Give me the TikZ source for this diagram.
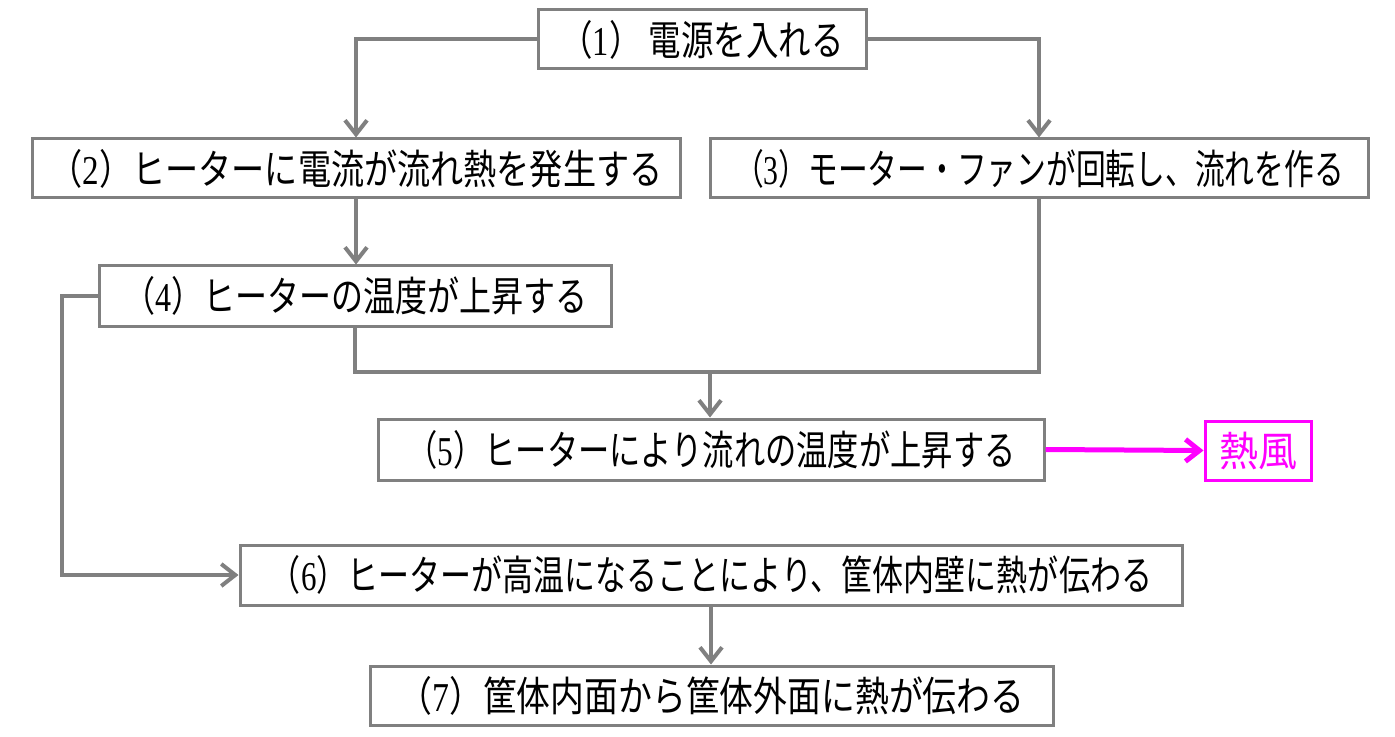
\documentclass[tikz,border=0pt]{standalone}
\usepackage{fontspec}
\setmainfont{Liberation Serif}
\newfontfamily\jp{Noto Sans CJK JP}
\usetikzlibrary{arrows.meta}
\definecolor{lg}{RGB}{128,128,128}
\definecolor{mg}{RGB}{255,0,255}
\newcommand{\fitw}[2]{\resizebox{#1}{\height}{#2}}
\newcommand{\dg}[1]{{\rmfamily #1}}
\begin{document}
\begin{tikzpicture}[x=0.5pt,y=-0.5pt,
  box/.style={draw=lg,line width=1.5pt,fill=white,inner sep=0pt,
    font=\jp\fontsize{20.5pt}{20.5pt}\selectfont},
  conn/.style={draw=lg,line width=2pt},
  tip/.style={-{Straight Barb[length=7pt,width=11pt]}}]
\path[fill=white,use as bounding box] (0,0) rectangle (1395,737);

\node[box,minimum width=164pt,minimum height=29.5pt] (b1) at (702,39.5)
  {\fitw{141.5pt}{（\dg{1}） 電源を入れる}};
\node[box,minimum width=324pt,minimum height=29.5pt] (b2) at (356,168.5)
  {\fitw{306.5pt}{（\dg{2}）ヒーターに電流が流れ熱を発生する}};
\node[box,minimum width=329pt,minimum height=29.5pt] (b3) at (1039,168.5)
  {\fitw{305pt}{（\dg{3}）モーター・ファンが回転し、流れを作る}};
\node[box,minimum width=256pt,minimum height=30pt] (b4) at (355,296)
  {\fitw{232pt}{（\dg{4}）ヒーターの温度が上昇する}};
\node[box,minimum width=333pt,minimum height=30.5pt] (b5) at (711,449.5)
  {\fitw{304.5pt}{（\dg{5}）ヒーターにより流れの温度が上昇する}};
\node[box,draw=mg,text=mg,minimum width=53pt,minimum height=29.5pt] (heat) at (1258,450.5)
  {\fitw{39pt}{熱風}};
\node[box,minimum width=471pt,minimum height=30pt] (b6) at (711,575)
  {\fitw{441pt}{（\dg{6}）ヒーターが高温になることにより、筐体内壁に熱が伝わる}};
\node[box,minimum width=341.5pt,minimum height=29.5pt] (b7) at (711.5,695.5)
  {\fitw{313pt}{（\dg{7}）筐体内面から筐体外面に熱が伝わる}};

\coordinate (j) at (710,372);
\coordinate (l) at (62,0);

\draw[conn,tip] (b1.west) -| (b2.north);
\draw[conn,tip] (b1.east) -| (b3.north);
\draw[conn,tip] (b2.south) -- (b2.south |- b4.north);
\draw[conn] (b4.south) |- (j);
\draw[conn] (b3.south) |- (j);
\draw[conn,tip] (j) -- (j |- b5.north);
\draw[conn,tip] (b4.west) -- (b4.west -| l) |- (b6.west);
\draw[conn,tip] (b6.south) -- (b6.south |- b7.north);
\draw[draw=mg,line width=2.5pt,-{Straight Barb[length=7pt,width=11pt]}] (b5.east) -- (heat.west);
\end{tikzpicture}
\end{document}
